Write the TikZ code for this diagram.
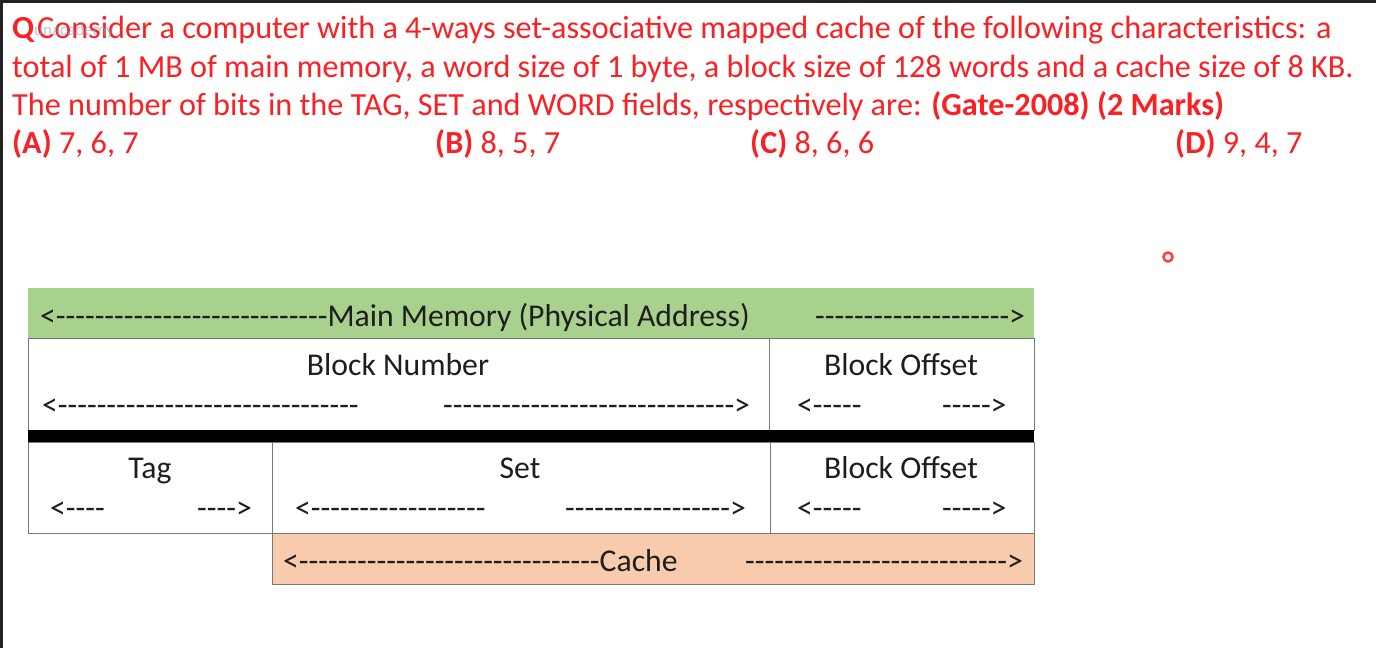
\documentclass[tikz,border=0pt]{standalone}
\usepackage{fontspec}
\setmainfont{Carlito}
\newfontfamily\dfont{Carlito}[Ligatures=TeXOff]
\definecolor{qred}{RGB}{250,32,36}
\definecolor{mmgreen}{RGB}{169,209,142}
\definecolor{cacheor}{RGB}{248,203,173}
\definecolor{bgray}{RGB}{120,120,120}
\definecolor{dtx}{RGB}{30,30,30}
\definecolor{frame}{RGB}{34,35,38}
\definecolor{wmc}{RGB}{140,165,195}
\newcount\hycnt
\newcommand\hyrep[1]{\hycnt=0 \loop\ifnum\hycnt<#1 -\advance\hycnt by 1 \repeat}
\begin{document}
\begin{tikzpicture}[x=1pt,y=-1pt,
  qtext/.style={anchor=base west, inner sep=0pt, text=qred, font=\fontsize{32.2}{38}\selectfont},
  dtext/.style={inner sep=0pt, text=dtx, font=\dfont\fontsize{31.7}{36}\selectfont},
  dleft/.style={dtext, anchor=base west},
  dmid/.style={dtext, anchor=base},
  cell/.style={draw=bgray, line width=1.3pt, fill=white, inner sep=0pt, anchor=north west},
  band/.style={inner sep=0pt, anchor=north west}]
\useasboundingbox (0,0) rectangle (1376,648);
\fill[white] (0,0) rectangle (1376,648);
\fill[frame] (0,0) rectangle (1376,3);
\fill[frame] (0,0) rectangle (3,648);
% question
\node[qtext] (q1) at (12,38) {\textbf{Q}\hspace{2pt}Consider a computer with a 4-ways set-associative mapped cache of the following characteristics: a};
\node[anchor=west, inner sep=0pt, text=wmc, opacity=0.6, font=\fontsize{17}{20}\selectfont] (wm) at (34,31) {unacademy};
\node[qtext] (q2) at (12,77) {total of 1 MB of main memory, a word size of 1 byte, a block size of 128 words and a cache size of 8 KB.};
\node[qtext] (q3) at (12,115) {The number of bits in the TAG, SET and WORD fields, respectively are: \textbf{(Gate-2008) (2 Marks)}};
\node[qtext] (qa) at (12,153) {\textbf{(A)} 7, 6, 7};
\node[qtext] (qb) at (435,153) {\textbf{(B)} 8, 5, 7};
\node[qtext] (qc) at (750,153) {\textbf{(C)} 8, 6, 6};
\node[qtext] (qd) at (1175,153) {\textbf{(D)} 9, 4, 7};
% pointer dot
\node[circle, draw=qred!85, line width=2.6pt, fill=white, minimum size=9pt, inner sep=0pt] (dot) at (1168,257) {};
% main memory band
\node[band, fill=mmgreen, minimum width=1006pt, minimum height=50pt] (mm) at (28,288) {};
\node[dleft] (mmL) at (40,326) {<\hyrep{28}Main Memory (Physical Address)};
\node[dleft] (mmR) at (815,326) {\hyrep{20}>};
% block number row
\node[cell, minimum width=741pt, minimum height=92pt] (bn) at (28,338) {};
\node[cell, minimum width=265pt, minimum height=92pt] (bo) at (769,338) {};
\node[dmid] (bnT) at (398,375) {Block Number};
\node[dleft] (bnL) at (42,415) {<\hyrep{31}};
\node[dleft] (bnR) at (443,415) {\hyrep{30}>};
\node[dmid] (boT) at (901,375) {Block Offset};
\node[dleft] (boL) at (797,415) {<\hyrep{5}};
\node[dleft] (boR) at (942,415) {\hyrep{5}>};
% thick bar
\node[band, fill=black, minimum width=1006pt, minimum height=12pt] (bar) at (28,430) {};
% tag set offset row
\node[cell, minimum width=244pt, minimum height=91pt] (tag) at (28,442) {};
\node[cell, minimum width=498pt, minimum height=91pt] (set) at (272,442) {};
\node[cell, minimum width=264pt, minimum height=91pt] (off) at (770,442) {};
\node[dmid] (tagT) at (150,478) {Tag};
\node[dleft] (tagL) at (50,518) {<\hyrep{4}};
\node[dleft] (tagR) at (197,518) {\hyrep{4}>};
\node[dmid] (setT) at (520,478) {Set};
\node[dleft] (setL) at (295,518) {<\hyrep{18}};
\node[dleft] (setR) at (565,518) {\hyrep{17}>};
\node[dmid] (offT) at (901,478) {Block Offset};
\node[dleft] (offL) at (797,518) {<\hyrep{5}};
\node[dleft] (offR) at (942,518) {\hyrep{5}>};
% cache band
\node[cell, fill=cacheor, minimum width=762pt, minimum height=51pt] (cache) at (272,533) {};
\node[dleft] (caL) at (283,571) {<\hyrep{31}Cache};
\node[dleft] (caR) at (745,571) {\hyrep{27}>};
\end{tikzpicture}
\end{document}
